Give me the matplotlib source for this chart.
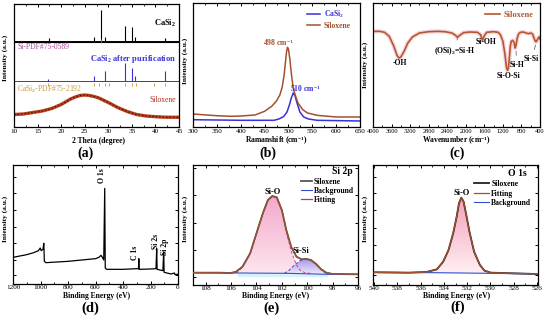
import numpy as np
import matplotlib
matplotlib.use("Agg")
import matplotlib.pyplot as plt
from matplotlib.colors import LinearSegmentedColormap
from matplotlib.ticker import MultipleLocator

plt.rcParams["font.family"] = ["Liberation Serif", "DejaVu Serif"]
plt.rcParams["mathtext.fontset"] = "custom"
plt.rcParams["mathtext.rm"] = "Liberation Serif:bold"
plt.rcParams["mathtext.it"] = "Liberation Serif:bold"
plt.rcParams["mathtext.bf"] = "Liberation Serif:bold"
plt.rcParams["axes.linewidth"] = 0.9

# ---------------- (a) XRD ----------------
xrd_casi2_peaks = [17.4, 26.9, 28.45, 29.3, 33.6, 35.1, 35.6, 42.1]
xrd_casi2_tops = [88.7, 90.3, 117, 90.3, 101, 100, 90.3, 89.3]
xrd_casi2_base = 86.3
xrd_pur_peaks = [17.3, 26.9, 29.2, 33.6, 35.0, 35.6, 42.1]
xrd_pur_tops = [48, 51, 56, 63.7, 58.7, 51, 56.3]
xrd_pur_base = 46
pdf_casi2_sticks = [17.3, 26.9, 28.1, 29.2, 30.2, 33.6, 35.1, 35.8, 39.6, 42.0]
pdf_si_sticks = [28.44]
xrd_silox_2theta = [10, 12, 14, 16, 18, 20, 22, 23, 24, 25, 26, 27, 28, 30, 32, 34, 36, 38, 40, 42, 45]
xrd_silox_int = [12.5, 13, 14.5, 16, 18.5, 22.5, 28, 30, 31.5, 32, 31.5, 30.5, 29, 24.5, 19.5,
                 15.5, 12.5, 11, 10.3, 9.8, 9.7]

# ---------------- (b) Raman ----------------
raman_casi2_x = [300, 400, 470, 480, 490, 497, 502, 506, 510, 514, 518, 524, 532, 542, 560, 650]
raman_casi2_y = [7.3, 6.7, 6.7, 8, 10.5, 15, 22, 29, 34, 31, 24, 15, 10, 8, 6.7, 6]
raman_silox_x = [300, 320, 350, 380, 400, 430, 450, 465, 475, 482, 487, 491, 494, 496, 498,
                 500, 503, 506, 510, 515, 520, 530, 540, 560, 600, 650]
raman_silox_y = [13, 12.3, 11.3, 10.7, 11, 12, 15.7, 20.7, 26, 32, 40, 52, 66, 75, 79.7,
                 78, 68, 54, 39, 30.7, 24, 17.3, 14, 11.7, 10, 10]

# ---------------- (c) FTIR ----------------
ftir_wn = [4000, 3850, 3750, 3650, 3550, 3480, 3440, 3400, 3330, 3250, 3150, 3000, 2800, 2600,
           2450, 2300, 2220, 2180, 2130, 2050, 1900, 1750, 1680, 1640, 1600, 1550, 1400, 1300,
           1250, 1200, 1160, 1120, 1100, 1080, 1060, 1040, 1020, 990, 960, 935, 915, 890, 860,
           820, 760, 700, 650, 600, 560, 530, 500, 480, 450, 420, 400]
ftir_t = [287, 287, 284, 272, 242, 214, 207, 210, 227, 252, 270, 282, 286, 287,
          286, 282, 275, 269, 275, 283, 285, 284, 277, 260, 274, 284, 286, 284,
          276, 257, 222, 177, 170, 177, 207, 242, 257, 260, 254, 237, 247, 267, 280,
          284, 285, 282, 280, 282, 279, 267, 257, 256, 264, 270, 264]

# ---------------- (d) XPS survey ----------------
survey_be = [1200, 1100, 1050, 1015, 1002, 995, 982, 976, 972, 960, 800, 600, 575, 560, 550,
             540, 533, 529, 520, 400, 300, 287, 285, 283, 200, 160, 155, 152, 110, 104, 101,
             50, 26, 24, 0]
survey_int = [80, 88, 94, 100, 108, 100, 104, 122, 68, 64, 68, 76, 80, 86, 80,
              72, 287, 48, 44, 44, 46, 46, 76, 44, 45, 46, 106, 44, 40, 96, 35,
              30, 33, 29, 29]

# ---------------- (e) Si 2p ----------------
si2p_be = [109, 107, 106, 105.6, 105.1, 104.5, 104.0, 103.5, 103.1, 102.75, 102.4, 102.0, 101.65,
           101.25, 100.85, 100.45, 100.05, 99.7, 99.3, 98.9, 98.5, 98.0, 96]
si2p_int = [37, 37, 36, 40, 55, 95, 155, 215, 255, 267, 263, 225, 165,
            113, 85, 77, 78, 75, 63, 47, 37, 33, 32]
si2p_bg_be = [109, 105.5, 101.6, 98.4, 96]
si2p_bg = [37, 36, 35, 32, 32]
si2p_sio_be = [105.6, 105.1, 104.5, 104.0, 103.5, 103.1, 102.75, 102.4, 102.0, 101.65, 101.25,
               100.85, 100.5, 100.1, 99.7]
si2p_sio = [36, 53, 93, 153, 213, 253, 265, 261, 222, 160, 100, 60, 42, 36, 35]
si2p_sisi_be = [101.8, 101.4, 101.0, 100.6, 100.2, 99.8, 99.4, 99.0, 98.6, 98.3]
si2p_sisi = [35, 45, 60, 72, 77, 76, 65, 49, 37, 32]

# ---------------- (f) O 1s ----------------
o1s_be = [540, 537, 535.5, 534.6, 534.06, 533.6, 533.2, 532.9, 532.7, 532.5, 532.3, 532.1,
          531.8, 531.4, 530.9, 530.5, 529.96, 528, 526]
o1s_int = [38, 37, 39, 47, 70, 105, 155, 205, 245, 262, 250, 215, 160, 100, 60, 43, 37, 35, 33]
o1s_bg_be = [540, 535, 530, 526]
o1s_bg = [38, 37, 35, 33]

BROWN = "#a0522d"
BLUE = "#3a30d8"
FS_TICK = 5.2
FS_LAB = 5.5

fig = plt.figure(figsize=(5.5, 3.2), dpi=100)


def add_ax(left, right, top, bottom):
    W, H = 550.0, 320.0
    return fig.add_axes([left / W, 1 - bottom / H, (right - left) / W, (bottom - top) / H])


def style(ax, major, minor, yticks=None, pad=2.0, size=FS_TICK):
    ax.xaxis.set_major_locator(MultipleLocator(major))
    ax.xaxis.set_minor_locator(MultipleLocator(minor))
    ax.tick_params(which="both", direction="in", top=True, right=True,
                   labelsize=size, pad=pad)
    ax.tick_params(which="major", length=2.5, width=0.7)
    ax.tick_params(which="minor", length=1.4, width=0.6)
    if yticks is None:
        ax.set_yticks([])
    else:
        ax.set_yticks(yticks)
        ax.yaxis.set_minor_locator(plt.NullLocator())
        ax.set_yticklabels([])


def gradient_fill(ax, x, ytop, ybot, c_top, c_bot, z=1):
    poly = ax.fill_between(x, ybot, ytop, color="none", lw=0)
    cmap = LinearSegmentedColormap.from_list("g", [c_bot, c_top])
    grad = np.linspace(0, 1, 256).reshape(-1, 1)
    im = ax.imshow(grad, aspect="auto", cmap=cmap, origin="lower", zorder=z,
                   extent=[min(x), max(x), min(ybot), max(ytop)])
    im.set_clip_path(poly.get_paths()[0], transform=ax.transData)


def label_fig(x, y, s, **kw):
    fig.text(x / 550.0, 1 - y / 320.0, s, ha="center", va="center", **kw)


# ---------------- (a) ----------------
ax = add_ax(14, 179, 4, 127)
ax.hlines(xrd_casi2_base, 10, 45, color="black", lw=0.7)
ax.vlines(xrd_casi2_peaks, xrd_casi2_base, xrd_casi2_tops, color="black", lw=0.8)
ax.axhline(84.7, color="black", lw=0.8)
ax.vlines(pdf_si_sticks, 84.7, 88, color="#c04080", lw=0.8)
ax.hlines(xrd_pur_base, 10, 45, color=BLUE, lw=0.7)
ax.vlines(xrd_pur_peaks, xrd_pur_base, xrd_pur_tops, color=BLUE, lw=0.8)
ax.vlines(pdf_casi2_sticks, 41, 44, color="#d0a040", lw=0.7)
ax.plot(xrd_silox_2theta, xrd_silox_int, color="#b8401e", lw=2.4)
ax.plot(xrd_silox_2theta, xrd_silox_int, color="#4a1a08", lw=1.0, ls=(0, (1, 1.5)))
ax.text(44.4, 103.7, "CaSi$_2$", ha="right", va="center", fontsize=6, fontweight="bold")
ax.text(10.7, 80.3, "Si-PDF#75-0589", ha="left", va="center", fontsize=5.5, color="#a8479c")
ax.text(44.4, 68.3, "CaSi$_2$ after purification", ha="right", va="center", fontsize=6,
        fontweight="bold", color=BLUE)
ax.text(10.7, 37.7, "CaSi$_2$-PDF#75-2192", ha="left", va="center", fontsize=5.5,
        color="#c89a3a")
ax.text(44.4, 27, "Siloxene", ha="right", va="center", fontsize=5.5, color="#b03020")
ax.set_xlim(10, 45)
ax.set_ylim(0, 123)
style(ax, 5, 2.5, pad=1.6)
label_fig(99, 141, "2 Theta (degree)", fontsize=FS_LAB, fontweight="bold")
label_fig(5, 58, "Intensity (a.u.)", fontsize=5.3, fontweight="bold", rotation=90)
label_fig(86, 153, "(a)", fontsize=10, fontweight="bold")

# ---------------- (b) ----------------
ax = add_ax(193, 360, 3, 127)
ax.plot(raman_casi2_x, raman_casi2_y, color=BLUE, lw=1.1, label="CaSi$_2$")
ax.plot(raman_silox_x, raman_silox_y, color=BROWN, lw=1.1, label="Siloxene")
ax.text(478, 84.7, "498 cm$^{-1}$", ha="center", va="center", fontsize=5.5,
        fontweight="bold", color=BROWN)
ax.text(536, 39, "510 cm$^{-1}$", ha="center", va="center", fontsize=5.5,
        fontweight="bold", color=BLUE)
leg = ax.legend(loc="upper left", bbox_to_anchor=(0.68, 0.955), frameon=False,
                handlelength=1.8, handletextpad=0.45, labelspacing=0.3,
                borderpad=0, borderaxespad=0, prop={"weight": "bold", "size": 5.5})
for t, c in zip(leg.get_texts(), [BLUE, BROWN]):
    t.set_color(c)
ax.set_xlim(300, 650)
ax.set_ylim(0, 124)
style(ax, 50, 25, pad=1.6)
label_fig(276.7, 141, "Ramanshift (cm$^{-1}$)", fontsize=FS_LAB, fontweight="bold")
label_fig(185, 61, "Intensity (a.u.)", fontsize=5.3, fontweight="bold", rotation=90)
label_fig(268, 153, "(b)", fontsize=10, fontweight="bold")

# ---------------- (c) ----------------
ax = add_ax(373, 540, 3, 127)
ax.plot(ftir_wn, ftir_t, color="#f4b8c8", lw=3.0, alpha=0.6)
ax.plot(ftir_wn, ftir_t, color="#b5582e", lw=1.2, label="Siloxene")
ann = dict(fontsize=5.5, fontweight="bold", ha="center", va="center")
arr = dict(arrowstyle="-", color="#555555", lw=0.5)
ax.text(3426, 192, "-OH", **ann)
ax.annotate("(OSi)$_2$=Si-H", xy=(2180, 266), xytext=(2243, 227), arrowprops=arr, **ann)
ax.text(1560, 254, "Si-OH", **ann)
ax.text(1081, 154, "Si-O-Si", **ann)
ax.annotate("Si-H", xy=(920, 236), xytext=(902, 186), arrowprops=arr, **ann)
ax.annotate("Si-Si", xy=(480, 254), xytext=(579, 204), arrowprops=arr, **ann)
leg = ax.legend(loc="upper left", bbox_to_anchor=(0.67, 0.935), frameon=False,
                handlelength=1.8, handletextpad=0.45, borderpad=0, borderaxespad=0,
                prop={"weight": "bold", "size": 6})
leg.get_texts()[0].set_color("#b5582e")
ax.set_xlim(4000, 400)
ax.set_ylim(0, 372)
style(ax, 400, 200, pad=1.6, size=4.6)
label_fig(456.7, 141, "Wavenumber (cm$^{-1}$)", fontsize=FS_LAB, fontweight="bold")
label_fig(365, 65, "Intensity (a.u.)", fontsize=5.3, fontweight="bold", rotation=90)
label_fig(457, 153, "(c)", fontsize=10, fontweight="bold")

# ---------------- (d) ----------------
ax = add_ax(13, 178, 165, 284)
ax.plot(survey_be, survey_int, color="black", lw=0.9)
rot = dict(fontsize=5.5, fontweight="bold", ha="center", va="center", rotation=90)
ax.text(553, 324, "O 1s", **rot)
ax.text(313, 92, "C 1s", **rot)
ax.text(158, 128, "Si 2s", **rot)
ax.text(97, 112, "Si 2p", **rot)
ax.set_xlim(1200, 0)
ax.set_ylim(0, 357)
style(ax, 200, 100, yticks=[27, 72, 122, 172, 222, 272, 322], pad=0.8)
label_fig(96.3, 296, "Binding Energy (eV)", fontsize=FS_LAB, fontweight="bold")
label_fig(5, 219, "Intensity (a.u.)", fontsize=5.3, fontweight="bold", rotation=90)
label_fig(90, 308.5, "(d)", fontsize=10.5, fontweight="bold")

# ---------------- (e) ----------------
ax = add_ax(193, 358, 165, 285)
gradient_fill(ax, si2p_sio_be, si2p_sio, np.interp(si2p_sio_be, si2p_bg_be[::-1], si2p_bg[::-1]),
              "#f4a8cc", "#fde6ef")
gradient_fill(ax, si2p_sisi_be, si2p_sisi, np.interp(si2p_sisi_be, si2p_bg_be[::-1], si2p_bg[::-1]),
              "#a898e8", "#ece8fb")
ax.fill_between([105.5, 98.4], [25, 25], [36, 32], color="#d4f3f8", lw=0, zorder=1)
ax.plot(si2p_sio_be, si2p_sio, color="#d040a0", lw=0.7, ls=(0, (3, 2)), zorder=2)
ax.plot(si2p_sisi_be, si2p_sisi, color="#5040d0", lw=0.7, ls=(0, (3, 2)), zorder=2)
ax.plot(si2p_be, si2p_int, color="#555555", lw=1.3, label="Siloxene", zorder=3)
ax.plot(si2p_bg_be, si2p_bg, color="#3050d0", lw=0.8, label="Background", zorder=3)
ax.plot(si2p_be, si2p_int, color=BROWN, lw=0.9, label="Fitting", zorder=4)
ax.text(97.2, 339, "Si 2p", ha="center", va="center", fontsize=7, fontweight="bold")
ax.text(102.7, 279, "Si-O", ha="center", va="center", fontsize=6, fontweight="bold")
ax.text(100.5, 102, "Si-Si", ha="center", va="center", fontsize=6, fontweight="bold")
ax.legend(loc="upper left", bbox_to_anchor=(0.655, 0.895), frameon=False,
          handlelength=1.4, handletextpad=0.3, labelspacing=0.15, borderpad=0,
          borderaxespad=0, prop={"weight": "bold", "size": 5.5})
ax.set_xlim(109, 96)
ax.set_ylim(0, 360)
style(ax, 2, 1, yticks=[25, 105, 185, 270, 350], pad=0.8)
label_fig(275.7, 296, "Binding Energy (eV)", fontsize=FS_LAB, fontweight="bold")
label_fig(185, 219, "Intensity (a.u.)", fontsize=5.3, fontweight="bold", rotation=90)
label_fig(272, 308.5, "(e)", fontsize=10.5, fontweight="bold")

# ---------------- (f) ----------------
ax = add_ax(373, 538, 165, 285)
gradient_fill(ax, o1s_be, o1s_int, np.interp(o1s_be, o1s_bg_be[::-1], o1s_bg[::-1]),
              "#f4a0b8", "#fff0f4")
ax.plot(o1s_be, o1s_int, color="#222222", lw=1.3, label="Siloxene", zorder=3)
ax.plot(o1s_be, o1s_int, color=BROWN, lw=0.9, label="Fitting", zorder=4)
ax.plot(o1s_bg_be, o1s_bg, color="#3050d0", lw=0.8, label="Background", zorder=3)
ax.text(527.7, 336, "O 1s", ha="center", va="center", fontsize=7, fontweight="bold")
ax.text(532.45, 276, "Si-O", ha="center", va="center", fontsize=6, fontweight="bold")
ax.legend(loc="upper left", bbox_to_anchor=(0.615, 0.875), frameon=False,
          handlelength=1.9, handletextpad=0.3, labelspacing=0.2, borderpad=0,
          borderaxespad=0, prop={"weight": "bold", "size": 5.5})
ax.set_xlim(540.1, 525.9)
ax.set_ylim(0, 360)
style(ax, 2, 1, yticks=[30, 75, 120, 170, 225, 275, 323], pad=0.8)
label_fig(456.7, 296, "Binding Energy (eV)", fontsize=FS_LAB, fontweight="bold")
label_fig(365, 219, "Intensity (a.u.)", fontsize=5.3, fontweight="bold", rotation=90)
label_fig(458, 307, "(f)", fontsize=10.5, fontweight="bold")

fig.savefig("out.png", dpi=100, facecolor="white")
